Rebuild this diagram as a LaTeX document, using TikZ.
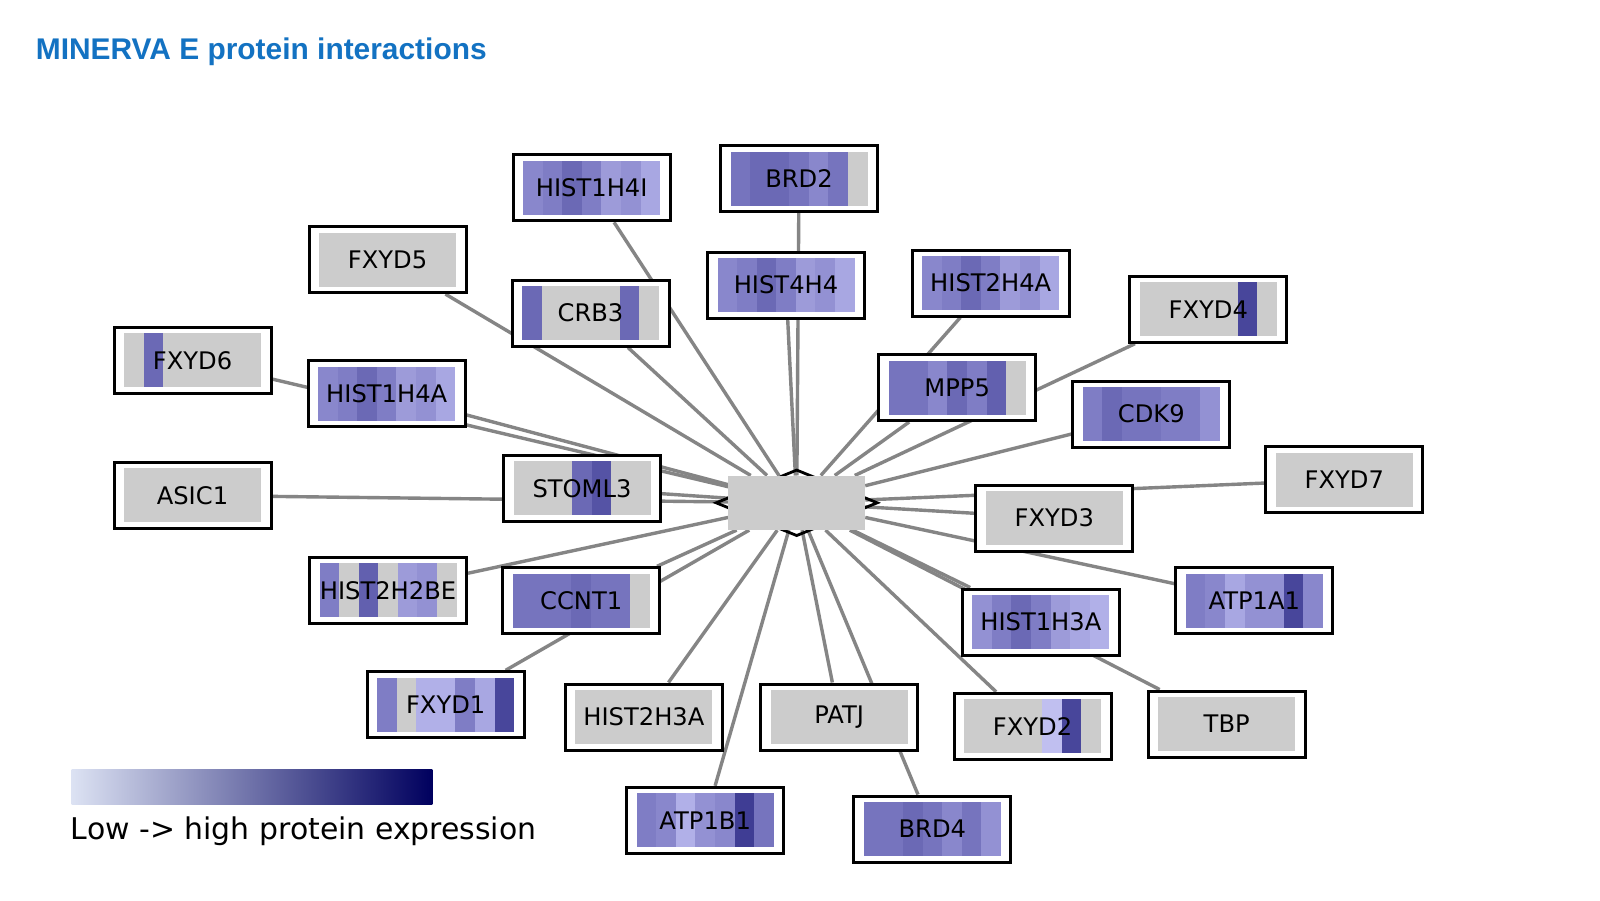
\documentclass[tikz,border=0pt]{standalone}
\usepackage{fontspec}
\setmainfont{DejaVu Sans}
\newfontfamily\headfont{Liberation Sans}
\usetikzlibrary{shapes.geometric}
\pgfdeclarelayer{links}
\pgfsetlayers{links,main}

% expression levels, light -> dark
\definecolor{na}{HTML}{CCCCCC}
\definecolor{e0}{HTML}{C0BFF0}
\definecolor{e1}{HTML}{B1B0E8}
\definecolor{e2}{HTML}{A8A7E2}
\definecolor{e3}{HTML}{9D9BD9}
\definecolor{e4}{HTML}{9391D3}
\definecolor{e5}{HTML}{8987CC}
\definecolor{e6}{HTML}{7F7DC5}
\definecolor{e7}{HTML}{7674BE}
\definecolor{e8}{HTML}{6B69B5}
\definecolor{e9}{HTML}{6260AF}
\definecolor{e10}{HTML}{5553A5}
\definecolor{e11}{HTML}{48469B}
\definecolor{e12}{HTML}{3F3D94}
\definecolor{linkgrey}{HTML}{858585}
\definecolor{headblue}{HTML}{1372C2}
\definecolor{lowexp}{HTML}{DCE2F3}
\definecolor{highexp}{HTML}{00005E}

\tikzset{
  genebox/.style={draw=black, line width=3pt, fill=white, inner sep=0pt,
    minimum width=157pt, minimum height=66pt},
  genelabel/.style={inner sep=0pt, font=\fontsize{24.2}{28}\selectfont},
  hubrim/.style={diamond, draw=black, line width=2.8pt, inner sep=0pt,
    minimum width=162.2pt, minimum height=66.6pt},
  hubcore/.style={rectangle, fill=na, inner sep=0pt,
    minimum width=136.7pt, minimum height=54.3pt},
  link/.style={draw=linkgrey, line width=3.4pt},
}

% name, x, y, label, seven stripe colours
\newcommand{\genenode}[5]{%
  \node[genebox] (#1) at (#2,#3) {};
  \foreach \c [count=\i from 0] in {#5}
    \fill[fill=\c] ({#2-68.5+19.571*\i},{#3-27}) rectangle +(19.571,54);
  \node[genelabel] at (#1) {#4};
}

\begin{document}
\begin{tikzpicture}[x=1pt,y=-1pt]
  \useasboundingbox (0,0) rectangle (1600,900);

  \node[anchor=base west, inner sep=0pt, text=headblue,
    font=\headfont\bfseries\fontsize{29.9}{34}\selectfont]
    (title) at (35.7,59) {MINERVA E protein interactions};

  % hub
  \node[hubrim] (rim) at (796.7,502.8) {};
  \node[hubcore] (hub) at (796.7,502.8) {};

  % partners
  \genenode{hist1h4i}{591.7}{187.8}{HIST1H4I}{e5,e6,e8,e6,e3,e4,e2}
  \genenode{brd2}{799}{178.5}{BRD2}{e7,e8,e8,e7,e5,e7,na}
  \genenode{hist4h4}{786}{285}{HIST4H4}{e5,e6,e8,e6,e3,e4,e2}
  \genenode{crb3}{590.5}{313}{CRB3}{e8,na,na,na,na,e8,na}
  \genenode{fxyd5}{387.5}{259.6}{FXYD5}{na,na,na,na,na,na,na}
  \genenode{fxyd6}{192.5}{360.3}{FXYD6}{na,e8,na,na,na,na,na}
  \genenode{hist1h4a}{386.7}{393.8}{HIST1H4A}{e5,e6,e8,e6,e3,e4,e2}
  \genenode{asic1}{192.5}{495.4}{ASIC1}{na,na,na,na,na,na,na}
  \genenode{stoml3}{582}{488.3}{STOML3}{na,na,na,e8,e10,na,na}
  \genenode{hist2h2be}{388}{590.3}{HIST2H2BE}{e6,na,e9,na,e3,e4,na}
  \genenode{ccnt1}{581.2}{600.8}{CCNT1}{e7,e7,e7,e8,e7,e7,na}
  \genenode{fxyd1}{445.7}{704.8}{FXYD1}{e6,na,e1,e1,e6,e2,e11}
  \genenode{hist2h3a}{643.9}{717}{HIST2H3A}{na,na,na,na,na,na,na}
  \genenode{patj}{839.2}{717}{PATJ}{na,na,na,na,na,na,na}
  \genenode{atp1b1}{705.2}{820.3}{ATP1B1}{e6,e5,e1,e4,e5,e12,e7}
  \genenode{brd4}{932.3}{829}{BRD4}{e7,e7,e8,e7,e5,e7,e4}
  \genenode{fxyd2}{1032.5}{726.3}{FXYD2}{na,na,na,na,e0,e11,na}
  \genenode{tbp}{1226.7}{724}{TBP}{na,na,na,na,na,na,na}
  \genenode{hist1h3a}{1040.8}{622}{HIST1H3A}{e4,e6,e8,e6,e3,e2,e1}
  \genenode{atp1a1}{1254.3}{600.7}{ATP1A1}{e6,e5,e2,e4,e4,e11,e5}
  \genenode{fxyd3}{1054.3}{518}{FXYD3}{na,na,na,na,na,na,na}
  \genenode{fxyd7}{1344.3}{479.7}{FXYD7}{na,na,na,na,na,na,na}
  \genenode{cdk9}{1151.3}{414}{CDK9}{e6,e8,e7,e7,e6,e6,e4}
  \genenode{fxyd4}{1208.3}{309.2}{FXYD4}{na,na,na,na,na,e11,na}
  \genenode{mpp5}{957.2}{387.5}{MPP5}{e7,e7,e5,e8,e6,e9,na}
  \genenode{hist2h4a}{990.7}{283}{HIST2H4A}{e5,e6,e8,e6,e3,e4,e2}

  \begin{pgfonlayer}{links}
    \fill[white] (0,0) rectangle (1600,900);
    \begin{scope}[link]
      \draw (hist1h4i) to (hub);
      \draw (brd2) to (hub);
      \draw (hist4h4) to (hub);
      \draw (crb3) to (hub);
      \draw (fxyd5) to (hub);
      \draw (fxyd6) to (hub);
      \draw (hist1h4a) to (hub);
      \draw (asic1) to (hub);
      \draw (stoml3) to (hub);
      \draw (hist2h2be) to (hub);
      \draw (ccnt1) to (hub);
      \draw (fxyd1) to (hub);
      \draw (hist2h3a) to (hub);
      \draw (patj) to (hub);
      \draw (atp1b1) to (hub);
      \draw (brd4) to (hub);
      \draw (fxyd2) to (hub);
      \draw (tbp) to (hub);
      \draw (hist1h3a) to (hub);
      \draw (atp1a1) to (hub);
      \draw (fxyd3) to (hub);
      \draw (fxyd7) to (hub);
      \draw (cdk9) to (hub);
      \draw (fxyd4) to (hub);
      \draw (mpp5) to (hub);
      \draw (hist2h4a) to (hub);
    \end{scope}
  \end{pgfonlayer}

  % legend
  \shade[left color=lowexp, right color=highexp] (71.7,769) rectangle (432.3,804.3);
  \node[anchor=base west, inner sep=0pt, font=\fontsize{29.9}{34}\selectfont]
    (legend) at (70.7,839.3) {Low -> high protein expression};
\end{tikzpicture}
\end{document}
